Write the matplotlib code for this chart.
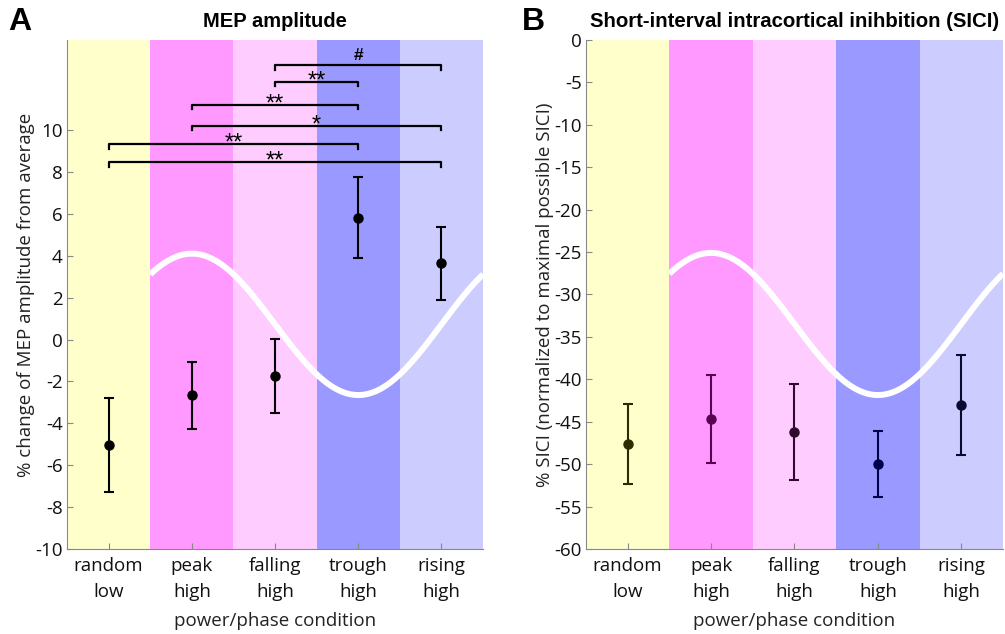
import numpy as np
import matplotlib
matplotlib.use("Agg")
import matplotlib.pyplot as plt

plt.rcParams["axes.unicode_minus"] = False

# ---- data ----
categories = ["random\nlow", "peak\nhigh", "falling\nhigh", "trough\nhigh", "rising\nhigh"]
band_colors = ["#FFFFCC", "#FF99FF", "#FFCCFF", "#9999FF", "#CCCCFF"]

mep_mean = [-5.05, -2.65, -1.75, 5.82, 3.63]
mep_err = [2.25, 1.6, 1.77, 1.93, 1.75]

sici_mean = [-47.6, -44.7, -46.2, -50.0, -43.0]
sici_err = [4.7, 5.2, 5.7, 3.9, 5.9]
sici_colors = ["#2b2b00", "#5a0052", "#2e0a2c", "#00004d", "#0a0a30"]

# significance brackets: (from category idx, to category idx, level, label)
sig_from = [3, 3, 2, 2, 1, 1]
sig_to = [5, 4, 4, 5, 4, 5]
sig_level = [13.1, 12.3, 11.2, 10.2, 9.33, 8.47]
sig_label = ["#", "**", "**", "*", "**", "**"]

# decorative phase curve (peak / trough values per panel)
wave_A = (4.1, -2.65)
wave_B = (-25.1, -41.85)

TICKFONT = "Open Sans"
TITLEFONT = "Liberation Sans"

fig = plt.figure(figsize=(10.05, 6.34), dpi=100)
axA = fig.add_axes([0.0667, 0.134, 0.414, 0.803])
axB = fig.add_axes([0.583, 0.134, 0.415, 0.803])

x = np.arange(1, len(categories) + 1)


def style(ax, ylim, yticks):
    for i, c in enumerate(band_colors):
        ax.axvspan(i + 0.5, i + 1.5, color=c, lw=0, zorder=0)
    ax.set_xlim(0.5, 5.5)
    ax.set_ylim(*ylim)
    ax.set_yticks(yticks)
    ax.set_xticks(x)
    ax.set_xticklabels(categories, fontfamily=TICKFONT, fontsize=13.5,
                       linespacing=1.55)
    for lab in ax.get_yticklabels():
        lab.set_fontfamily(TICKFONT)
        lab.set_fontsize(13.5)
    ax.tick_params(direction="in", length=4, color="#888888", width=0.8,
                   pad=3, labelcolor="#111111")
    ax.tick_params(axis="x", pad=6)
    for s in ["top", "right"]:
        ax.spines[s].set_visible(False)
    for s in ["left", "bottom"]:
        ax.spines[s].set_color("#888888")
        ax.spines[s].set_linewidth(0.8)
    ax.set_xlabel("power/phase condition", fontfamily=TICKFONT, fontsize=13.5,
                  color="#222222", labelpad=8)


def wave(ax, peak, trough):
    xs = np.linspace(1.5, 5.5, 300)
    mid = (peak + trough) / 2
    amp = (peak - trough) / 2
    ax.plot(xs, mid + amp * np.cos((xs - 2) * np.pi / 2), color="white",
            lw=4.3, zorder=1, solid_capstyle="butt")


# ---- Panel A ----
style(axA, (-10, 14.3), np.arange(-10, 11, 2))
wave(axA, *wave_A)
axA.errorbar(x, mep_mean, yerr=mep_err, fmt="o", color="black", ms=6.5,
             elinewidth=1.5, capsize=3.5, capthick=1.5, zorder=3)
tick = 0.22
for a, b, lev, lab in zip(sig_from, sig_to, sig_level, sig_label):
    axA.plot([a, a, b, b], [lev - tick, lev, lev, lev - tick], color="black",
             lw=1.6, zorder=3)
    if lab == "#":
        axA.annotate(lab, xy=((a + b) / 2, lev), xytext=(0, 3.5),
                     textcoords="offset points", ha="center", va="baseline",
                     fontsize=12.5, fontfamily=TITLEFONT, fontweight="bold",
                     zorder=4)
    else:
        axA.annotate(lab, xy=((a + b) / 2, lev), xytext=(0, -4),
                     textcoords="offset points", ha="center", va="baseline",
                     fontsize=17, fontfamily=TITLEFONT, zorder=4)
axA.set_ylabel("% change of MEP amplitude from average", fontfamily=TICKFONT,
               fontsize=13.5, color="#222222", labelpad=0)
axA.set_title("MEP amplitude", fontfamily=TITLEFONT, fontweight="bold",
              fontsize=14.5, pad=9)
fig.text(0.008, 0.966, "A", fontfamily=TITLEFONT, fontweight="bold",
         fontsize=23, va="center")

# ---- Panel B ----
style(axB, (-60, 0), np.arange(-60, 1, 5))
wave(axB, *wave_B)
for xi, m, e, c in zip(x, sici_mean, sici_err, sici_colors):
    axB.errorbar([xi], [m], yerr=[e], fmt="o", color=c, ms=6.5,
                 elinewidth=1.5, capsize=3.5, capthick=1.5, zorder=3)
axB.set_ylabel("% SICI (normalized to maximal possible SICI)",
               fontfamily=TICKFONT, fontsize=13.5, color="#222222", labelpad=0)
axB.set_title("Short-interval intracortical inihbition (SICI)",
              fontfamily=TITLEFONT, fontweight="bold", fontsize=14.7, pad=9)
fig.text(0.519, 0.966, "B", fontfamily=TITLEFONT, fontweight="bold",
         fontsize=23, va="center")

fig.savefig("out.png", dpi=100)
